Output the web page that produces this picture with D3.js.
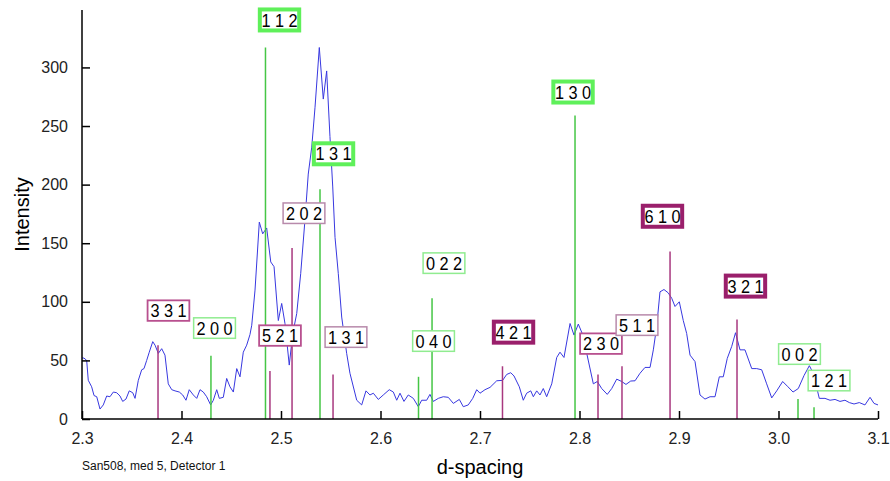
<!DOCTYPE html>
<html>
<head>
<meta charset="utf-8">
<script src="https://cdn.jsdelivr.net/npm/d3@7"></script>
<style>
  html, body { margin: 0; padding: 0; background: #fff; }
  svg { display: block; font-family: "Liberation Sans", Arial, Helvetica, sans-serif; }
</style>
</head>
<body>
<svg id="chart" width="890" height="481"></svg>
<script>
// ---- observed pattern (d-spacing vs intensity) ----
const dSpacing = [2.3000,2.3020,2.3047,2.3063,2.3097,2.3121,2.3148,2.3181,2.3214,2.3248,2.3281,2.3315,2.3349,2.3382,2.3409,2.3442,2.3475,2.3510,2.3533,2.3566,2.3600,2.3623,2.3650,2.3676,2.3711,2.3734,2.3767,2.3801,2.3834,2.3867,2.3902,2.3935,2.3978,2.4012,2.4045,2.4078,2.4119,2.4153,2.4186,2.4219,2.4253,2.4293,2.4320,2.4354,2.4380,2.4420,2.4454,2.4487,2.4521,2.4555,2.4588,2.4621,2.4655,2.4688,2.4706,2.4739,2.4782,2.4816,2.4856,2.4897,2.4930,2.4973,2.5007,2.5040,2.5083,2.5118,2.5158,2.5198,2.5241,2.5274,2.5309,2.5342,2.5385,2.5425,2.5459,2.5492,2.5520,2.5543,2.5576,2.5610,2.5660,2.5693,2.5761,2.5811,2.5854,2.5894,2.5928,2.5978,2.6028,2.6088,2.6129,2.6163,2.6196,2.6236,2.6279,2.6330,2.6380,2.6414,2.6464,2.6497,2.6531,2.6581,2.6631,2.6681,2.6732,2.6792,2.6832,2.6882,2.6927,2.6967,2.7000,2.7050,2.7101,2.7168,2.7228,2.7268,2.7309,2.7342,2.7395,2.7435,2.7469,2.7510,2.7536,2.7570,2.7603,2.7636,2.7670,2.7721,2.7771,2.7804,2.7844,2.7905,2.7945,2.7988,2.8032,2.8139,2.8179,2.8223,2.8279,2.8324,2.8374,2.8424,2.8467,2.8515,2.8558,2.8608,2.8658,2.8709,2.8742,2.8776,2.8809,2.8849,2.8892,2.8927,2.8960,2.9003,2.9043,2.9077,2.9111,2.9161,2.9211,2.9261,2.9312,2.9362,2.9405,2.9445,2.9485,2.9530,2.9568,2.9613,2.9663,2.9731,2.9781,2.9831,2.9881,2.9932,2.9982,3.0042,3.0095,3.0146,3.0199,3.0256,3.0310,3.0350,3.0410,3.0467,3.0518,3.0568,3.0618,3.0668,3.0712,3.0759,3.0812,3.0869,3.0920,3.0960,3.1000];
const intensity = [52,52,50,33,27.5,20,19,8.5,12,19.6,19,23,22.4,19.6,15,17,24,22.4,17.6,33,42,43,50,57,66,63,56,60,54.5,30,25,24,23,20.5,16,25,20.5,17.6,25,23,19,12,16,25,17.6,18.5,34.6,27.5,23,43,36,57,63,72,80,110,168,158,163,134,130,84,98.6,81.5,46,73,90,124,170,209,232,266,317,273,297,241,198,155,124,87,56,39,16,12,24,20.5,22,16.7,20.5,25,23,16,22,15,20.5,17.6,10.5,16,16,21,15,17.6,19,18.5,13.3,16.7,10.5,12,17.6,25,22,25,27,32.6,33,38,39.5,36.7,27.5,16,22,24,19,24,20.5,26,19,30,52.5,57,52.5,81.5,71.6,81,72,30,32,26,21,26,34,32,29.5,32.4,32.6,39,44,44,59,79,108.5,110.5,107.6,103,96,100,84,73,54.5,49,20.5,17,19,19,36,36,51.7,62,73.6,59,59,43,43,42,30,18,24,32,27.5,23,26,37,45.5,39,17.6,17.6,16,16.7,15,16,14,12.8,14,12,18.5,13.3,12];

// ---- reference reflections ----
const phaseA_d     = [2.4296,2.4844,2.5392,2.6382,2.6518,2.7955,3.0196,3.0357];
const phaseA_int   = [54,317,196,36,103,259,17,10];
const phaseA_hkl   = ["2 0 0","1 1 2","1 3 1","0 4 0","0 2 2","1 3 0","0 0 2","1 2 1"];
const phaseA_rank  = [1,3,3,1,1,3,1,1];
const phaseA_labD  = [2.4332,2.4985,2.5528,2.6533,2.6638,2.7935,3.0211,3.0508];
const phaseA_labI  = [77.6,340.5,226.3,66.5,133,279,55.4,32.8];

const phaseB_d     = [2.3764,2.4889,2.5111,2.5523,2.7226,2.8186,2.8427,2.8910,2.9583];
const phaseB_int   = [63,41,146,38,45,38,45,143,85];
const phaseB_hkl   = ["3 3 1","5 2 1","2 0 2","1 3 1","4 2 1","2 3 0","5 1 1","6 1 0","3 2 1"];
const phaseB_rank  = [2,2,1,1,3,2,1,3,3];
const phaseB_labD  = [2.3869,2.4990,2.5231,2.5653,2.7337,2.8216,2.8578,2.8834,2.9668];
const phaseB_labI  = [92.5,71.2,175.6,69.9,74.1,64.3,80.1,173,113.4];

// ---- axes ----
const xTicks = [2.3,2.4,2.5,2.6,2.7,2.8,2.9,3.0,3.1];
const yTicks = [0,50,100,150,200,250,300];
const xTitle = "d-spacing";
const yTitle = "Intensity";
const footNote = "San508, med 5, Detector 1";

// ---- layout / styles ----
const svg = d3.select("#chart");
const x = d3.scaleLinear().domain([2.3, 3.1]).range([82, 878]);
const y = d3.scaleLinear().domain([0, 349]).range([419, 10]);

const styleA = {
  line: "#45c645",
  box: {1: {stroke: "#90ec90", w: 1.5}, 2: {stroke: "#70e870", w: 2.5}, 3: {stroke: "#5ff05a", w: 4}}
};
const styleB = {
  line: "#a8387f",
  box: {1: {stroke: "#b88aab", w: 1.5}, 2: {stroke: "#b8508f", w: 1.8}, 3: {stroke: "#9a1f6b", w: 4}}
};

// observed line
const lineGen = d3.line().x((d, i) => x(dSpacing[i])).y((d, i) => y(intensity[i]));
svg.append("path")
  .datum(intensity)
  .attr("d", lineGen)
  .attr("fill", "none")
  .attr("stroke", "#3838e0")
  .attr("stroke-width", 1)
  .attr("stroke-linejoin", "round");

function drawPhase(dArr, iArr, hkl, rank, labD, labI, style) {
  const data = dArr.map((d, i) => ({d, I: iArr[i], hkl: hkl[i], rank: rank[i], ld: labD[i], li: labI[i]}));
  svg.append("g").selectAll("line").data(data).join("line")
    .attr("x1", d => x(d.d)).attr("x2", d => x(d.d))
    .attr("y1", y(0)).attr("y2", d => y(d.I))
    .attr("stroke", style.line).attr("stroke-width", 1.5);
  return data;
}
const dataA = drawPhase(phaseA_d, phaseA_int, phaseA_hkl, phaseA_rank, phaseA_labD, phaseA_labI, styleA);
const dataB = drawPhase(phaseB_d, phaseB_int, phaseB_hkl, phaseB_rank, phaseB_labD, phaseB_labI, styleB);

const LABEL_FS = 18.5, LABEL_SX = 0.88;
function drawLabels(data, style) {
  const g = svg.append("g");
  data.forEach(d => {
    const s = style.box[d.rank];
    const lg = g.append("g").attr("transform", `translate(${x(d.ld)},${y(d.li)})`);
    const rect = lg.append("rect");
    const t = lg.append("text")
      .attr("text-anchor", "middle")
      .attr("dy", "0.36em")
      .attr("font-size", LABEL_FS)
      .attr("transform", `scale(${LABEL_SX},1)`)
      .attr("fill", "#000")
      .text(d.hkl);
    const tw = t.node().getBBox().width * LABEL_SX;
    const thick = s.w > 3;
    const padX = thick ? 1.6 : 2.8;
    const h = thick ? 21 : 20.5;
    rect.attr("x", -tw / 2 - padX).attr("y", -h / 2)
      .attr("width", tw + 2 * padX).attr("height", h)
      .attr("fill", "#fff").attr("stroke", s.stroke).attr("stroke-width", s.w);
  });
}
drawLabels(dataA, styleA);
drawLabels(dataB, styleB);

// axes
const xAxis = d3.axisBottom(x).tickValues(xTicks).tickSize(-8).tickPadding(14).tickFormat(d3.format(".1f"));
const gx = svg.append("g").attr("transform", `translate(0,${y(0)})`).call(xAxis);
gx.select(".domain").attr("d", `M${x(2.3)},0H${x(3.1)}`).attr("stroke", "#000").attr("stroke-width", 1.5);
gx.selectAll(".tick line").attr("stroke", "#000").attr("stroke-width", 1.5);
gx.selectAll(".tick text").attr("font-size", 16).attr("fill", "#222").attr("font-family", "Liberation Sans, Arial, sans-serif");

const yAxis = d3.axisLeft(y).tickValues(yTicks).tickSize(-8).tickPadding(14);
const gy = svg.append("g").attr("transform", `translate(${x(2.3)},0)`).call(yAxis);
gy.select(".domain").attr("d", `M0,${y(0)}V${y(349)}`).attr("stroke", "#000").attr("stroke-width", 1.5);
gy.selectAll(".tick line").attr("stroke", "#000").attr("stroke-width", 1.5);
gy.selectAll(".tick text").attr("font-size", 16).attr("fill", "#222").attr("font-family", "Liberation Sans, Arial, sans-serif");

svg.append("text")
  .attr("transform", `translate(29,${(y(0) + y(349)) / 2}) rotate(-90)`)
  .attr("text-anchor", "middle")
  .attr("font-size", 20)
  .attr("fill", "#000")
  .text(yTitle);

svg.append("text")
  .attr("x", 480).attr("y", 474)
  .attr("text-anchor", "middle")
  .attr("font-size", 20)
  .attr("fill", "#000")
  .text(xTitle);

svg.append("text")
  .attr("x", 82).attr("y", 470)
  .attr("font-size", 12)
  .attr("fill", "#111")
  .text(footNote);
</script>
</body>
</html>
